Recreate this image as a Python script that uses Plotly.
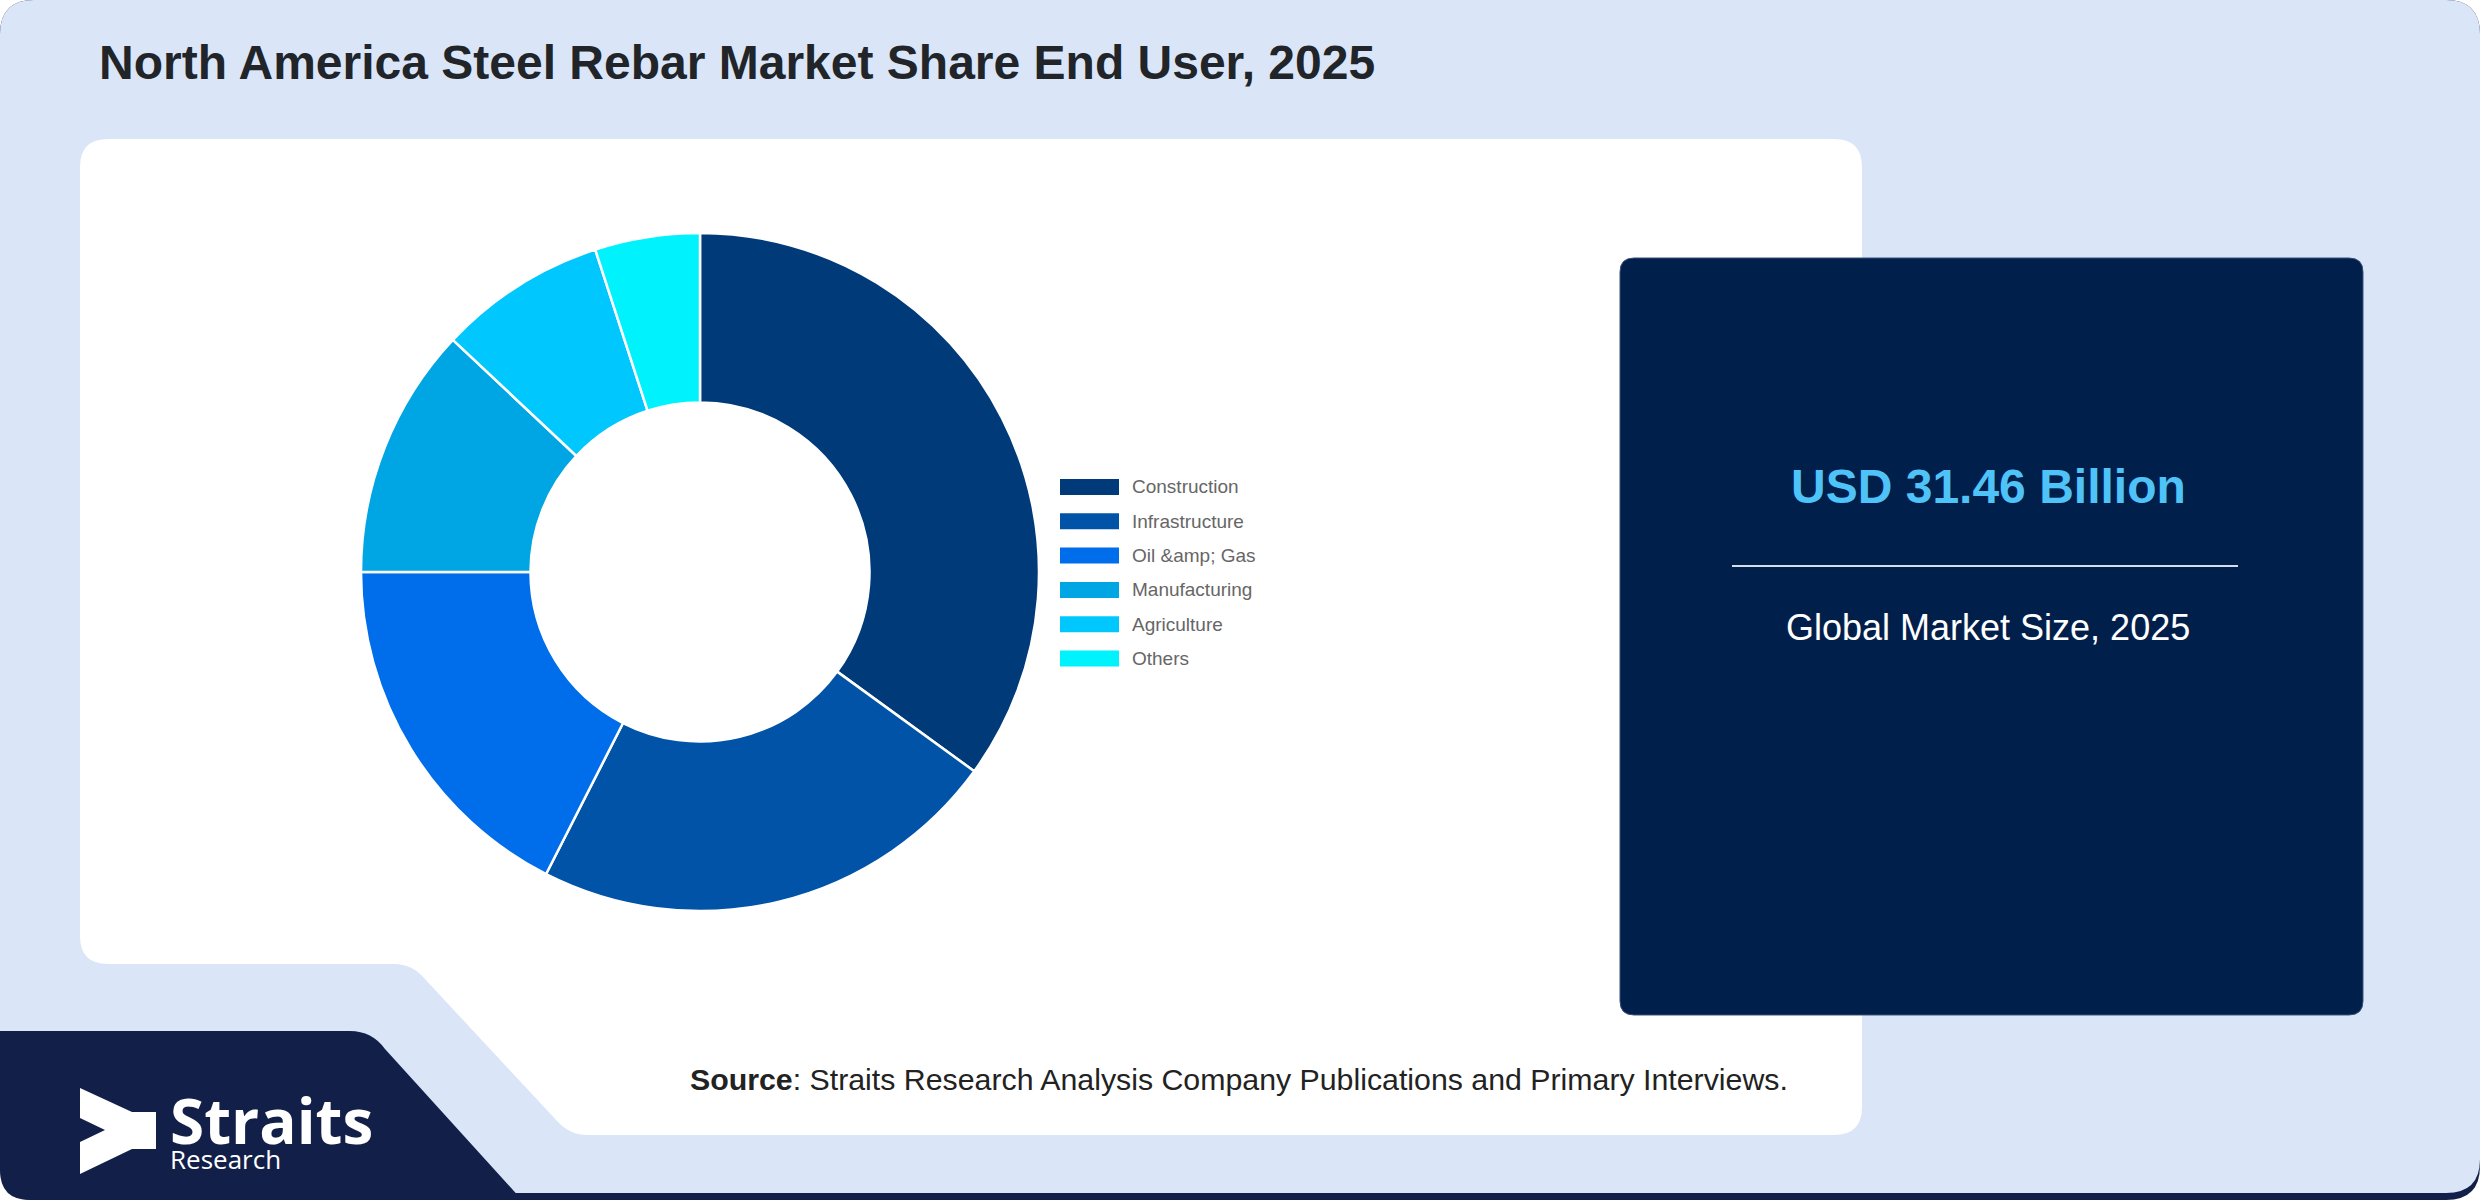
import plotly.graph_objects as go

W, H = 2480, 1200

# data
segments = ["Construction", "Infrastructure", "Oil &amp; Gas", "Manufacturing", "Agriculture", "Others"]
shares = [35.0, 22.5, 17.5, 12.0, 8.0, 5.0]
seg_colors = ["#003A78", "#0053A6", "#006DEB", "#00A6E3", "#00C8FF", "#00F2FC"]

title_text = "North America Steel Rebar Market Share End User, 2025"
market_size = "USD 31.46 Billion"
market_label = "Global Market Size, 2025"
source_text = "<b>Source</b>: Straits Research Analysis Company Publications and Primary Interviews."

BG = "#dae6f8"
NAVY = "#121f48"
BOX = "#011f4b"


def P(x, y):
    # pixel -> paper coords
    return f"{x / W:.5f},{1 - y / H:.5f}"


def rrect(x0, y0, x1, y1, r):
    return (f"M{P(x0 + r, y0)} L{P(x1 - r, y0)} Q{P(x1, y0)} {P(x1, y0 + r)} "
            f"L{P(x1, y1 - r)} Q{P(x1, y1)} {P(x1 - r, y1)} L{P(x0 + r, y1)} "
            f"Q{P(x0, y1)} {P(x0, y1 - r)} L{P(x0, y0 + r)} Q{P(x0, y0)} {P(x0 + r, y0)} Z")


def path_shape(path, fill, line_color=None, line_width=0, layer="below"):
    return dict(type="path", xref="paper", yref="paper", path=path, fillcolor=fill,
                line=dict(color=line_color or fill, width=line_width), layer=layer)


shapes = []
# outer card with dark bottom edge
shapes.append(path_shape(rrect(0, 0, W, H, 34), NAVY))
shapes.append(path_shape(rrect(0, 0, W, H - 7, 34), BG))

# white panel with notch bottom-left
white_panel = (f"M{P(108, 139)} L{P(1834, 139)} Q{P(1862, 139)} {P(1862, 167)} "
               f"L{P(1862, 1107)} Q{P(1862, 1135)} {P(1834, 1135)} L{P(588, 1135)} "
               f"Q{P(570, 1135)} {P(558, 1122)} L{P(424, 978)} Q{P(412, 964)} {P(394, 964)} "
               f"L{P(108, 964)} Q{P(80, 964)} {P(80, 936)} L{P(80, 167)} Q{P(80, 139)} {P(108, 139)} Z")
shapes.append(path_shape(white_panel, "#ffffff"))

# logo block
logo_block = (f"M{P(0, 1031)} L{P(350, 1031)} Q{P(372, 1031)} {P(385, 1049)} "
              f"L{P(522, 1200)} L{P(30, 1200)} Q{P(0, 1200)} {P(0, 1170)} Z")
shapes.append(path_shape(logo_block, NAVY))

# chevron mark
cx, cy = 80, 1088
pts = [(0, 0), (52, 24), (76, 24), (76, 61), (52, 61), (0, 86), (0, 54), (25, 42), (0, 30)]
chev = "M" + " L".join(P(cx + a, cy + b) for a, b in pts) + " Z"
shapes.append(path_shape(chev, "#ffffff"))

# dark info box
shapes.append(path_shape(rrect(1620, 258, 2363, 1015, 14), BOX, "#3a4f78", 1))
shapes.append(dict(type="line", xref="paper", yref="paper",
                   x0=1732 / W, x1=2238 / W, y0=1 - 566 / H, y1=1 - 566 / H,
                   line=dict(color="#d5dcea", width=2), layer="above"))

annotations = [
    dict(text=f"<b>{title_text}</b>", x=97 / W, y=1 - 63 / H, xanchor="left", yanchor="middle",
         font=dict(size=48, color="#212529", family="Liberation Sans")),
    dict(text=f"<b>{market_size}</b>", x=1988 / W, y=1 - 487 / H, xanchor="center", yanchor="middle",
         font=dict(size=48, color="#4fc3f7", family="Liberation Sans")),
    dict(text=market_label, x=1988 / W, y=1 - 627 / H, xanchor="center", yanchor="middle",
         font=dict(size=36, color="#ffffff", family="Liberation Sans")),
    dict(text=source_text, x=688 / W, y=1 - 1079 / H, xanchor="left", yanchor="middle",
         font=dict(size=30.3, color="#222222", family="Liberation Sans")),
    dict(text="<span style='font-size:62px'><b>Straits</b></span><br>"
              "<span style='font-size:26px'>Research</span>",
         x=168 / W, y=1 - 1127 / H, xanchor="left", yanchor="middle", align="left",
         font=dict(size=19.5, color="#ffffff", family="Open Sans")),
]

# legend swatches and labels
leg_x, leg_y, leg_step = 1060, 487, 34.3
for i, (name, col) in enumerate(zip(segments, seg_colors)):
    y = leg_y + i * leg_step
    shapes.append(dict(type="rect", xref="paper", yref="paper",
                       x0=leg_x / W, x1=(leg_x + 59) / W, y0=1 - (y - 8) / H, y1=1 - (y + 8) / H,
                       fillcolor=col, line=dict(width=0), layer="above"))
    annotations.append(dict(text=name.replace("&", "&amp;"), x=(leg_x + 70) / W, y=1 - y / H,
                            xanchor="left", yanchor="middle",
                            font=dict(size=19, color="#666666", family="Liberation Sans")))

for a in annotations:
    a["xref"] = "paper"
    a["yref"] = "paper"
    a["showarrow"] = False

pcx, pcy, pr = 700, 572, 339
fig = go.Figure(go.Pie(
    labels=segments,
    values=shares,
    hole=0.5,
    sort=False,
    direction="clockwise",
    rotation=0,
    marker=dict(colors=seg_colors, line=dict(color="#ffffff", width=2.5)),
    textinfo="none",
    hoverinfo="label+percent",
    showlegend=False,
    domain=dict(x=[(pcx - pr) / W, (pcx + pr) / W], y=[1 - (pcy + pr) / H, 1 - (pcy - pr) / H]),
))

fig.update_layout(
    width=W, height=H,
    margin=dict(l=0, r=0, t=0, b=0),
    paper_bgcolor="#ffffff",
    plot_bgcolor="#ffffff",
    shapes=shapes,
    annotations=annotations,
    showlegend=False,
)

fig.write_html("out.html", config={"displayModeBar": False},
               post_script="document.body.style.margin='0';document.body.style.overflow='hidden';")
